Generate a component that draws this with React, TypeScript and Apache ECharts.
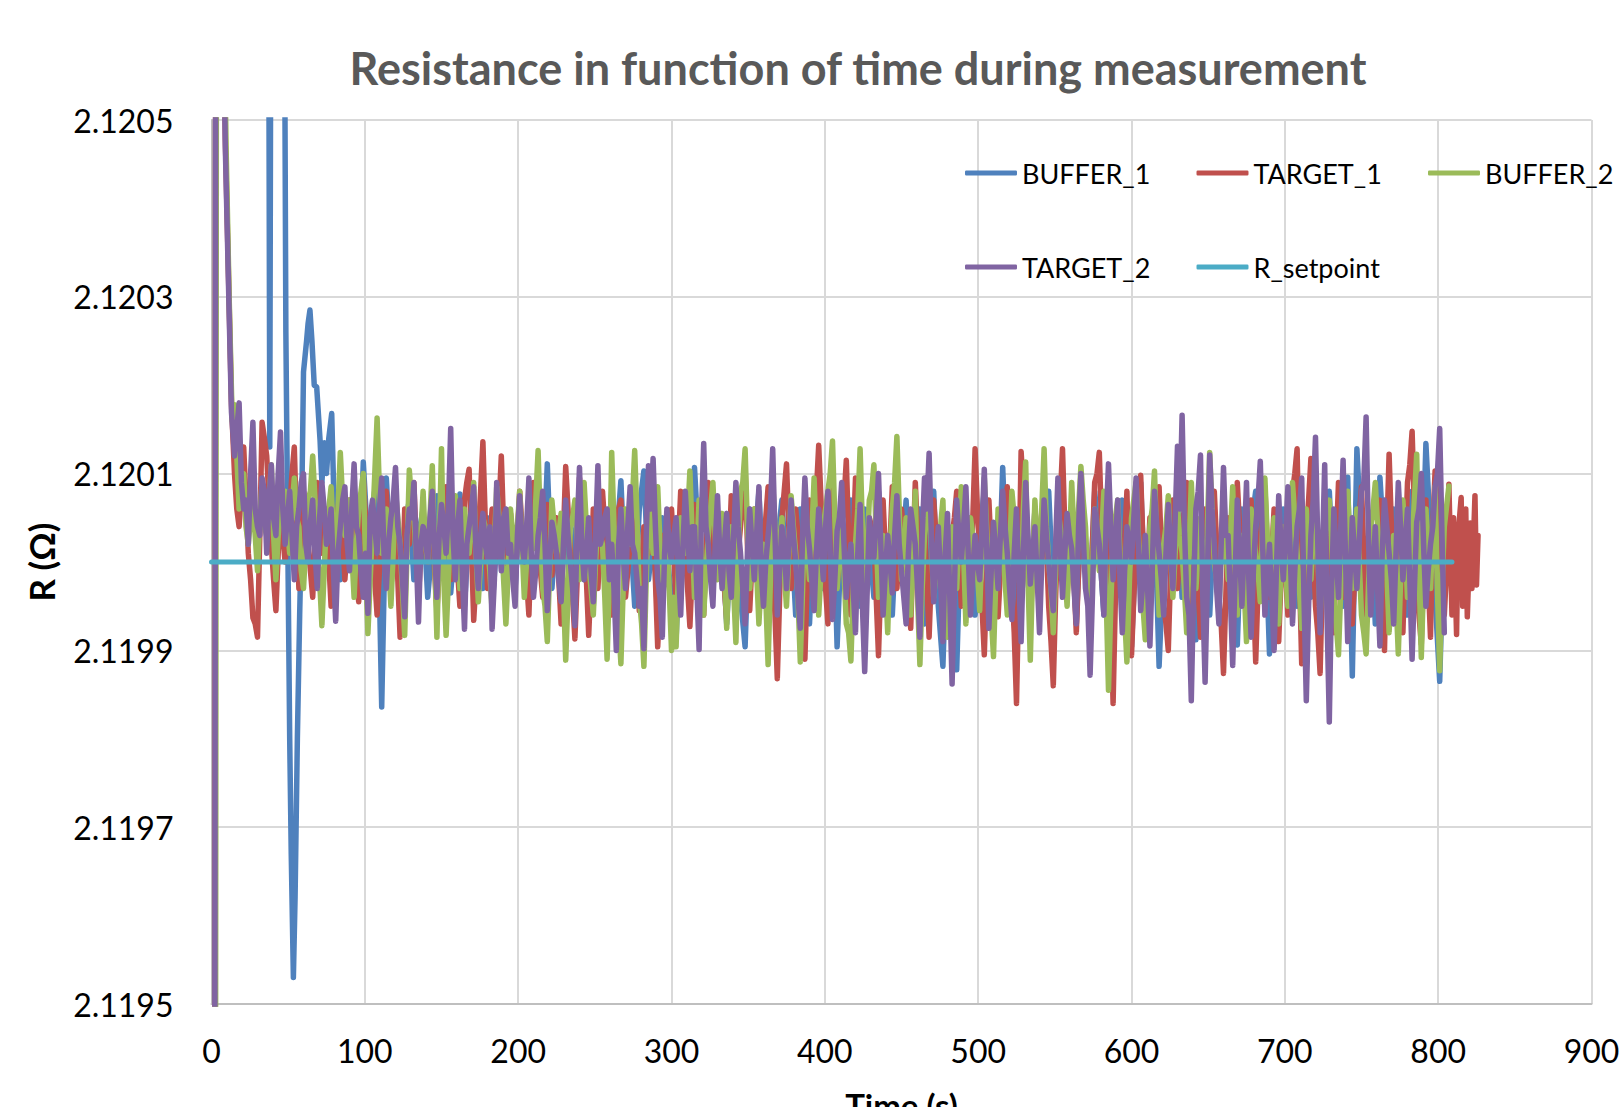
import React, { useEffect, useRef } from "react";
import * as echarts from "echarts";

// Resistance values are stored as deviations from the setpoint, in micro-ohm.
const R_SETPOINT_OHM = 2.12;
const MICRO_OHM = 1e-6;

const SERIES_NAMES = ["BUFFER_1", "TARGET_1", "BUFFER_2", "TARGET_2", "R_setpoint"];
const SERIES_COLORS = ["#4F81BD", "#C0504D", "#9BBB59", "#8064A2", "#4BACC6"];
const SERIES_WIDTHS = [5.5, 5.5, 5.5, 5.5, 5];

const X_TICKS = [0, 100, 200, 300, 400, 500, 600, 700, 800, 900];
const Y_TICKS = ["2.1195", "2.1197", "2.1199", "2.1201", "2.1203", "2.1205"];

// Sample times (s) shared by the measured series.
const TIME_S = [
  15, 18, 21, 24, 27, 30, 33, 36, 39, 42, 45, 48,
  51, 54, 57, 60, 63, 66, 69, 72, 75, 78, 81, 84,
  87, 90, 93, 96, 99, 102, 105, 108, 111, 114, 117, 120,
  123, 126, 129, 132, 135, 138, 141, 144, 147, 150, 153, 156,
  159, 162, 165, 168, 171, 174, 177, 180, 183, 186, 189, 192,
  195, 198, 201, 204, 207, 210, 213, 216, 219, 222, 225, 228,
  231, 234, 237, 240, 243, 246, 249, 252, 255, 258, 261, 264,
  267, 270, 273, 276, 279, 282, 285, 288, 291, 294, 297, 300,
  303, 306, 309, 312, 315, 318, 321, 324, 327, 330, 333, 336,
  339, 342, 345, 348, 351, 354, 357, 360, 363, 366, 369, 372,
  375, 378, 381, 384, 387, 390, 393, 396, 399, 402, 405, 408,
  411, 414, 417, 420, 423, 426, 429, 432, 435, 438, 441, 444,
  447, 450, 453, 456, 459, 462, 465, 468, 471, 474, 477, 480,
  483, 486, 489, 492, 495, 498, 501, 504, 507, 510, 513, 516,
  519, 522, 525, 528, 531, 534, 537, 540, 543, 546, 549, 552,
  555, 558, 561, 564, 567, 570, 573, 576, 579, 582, 585, 588,
  591, 594, 597, 600, 603, 606, 609, 612, 615, 618, 621, 624,
  627, 630, 633, 636, 639, 642, 645, 648, 651, 654, 657, 660,
  663, 666, 669, 672, 675, 678, 681, 684, 687, 690, 693, 696,
  699, 702, 705, 708, 711, 714, 717, 720, 723, 726, 729, 732,
  735, 738, 741, 744, 747, 750, 753, 756, 759, 762, 765, 768,
  771, 774, 777, 780, 783, 786, 789, 792, 795, 798, 801, 804,
];

// Intermediate sample times (s) of the target/buffer_2 series.
const TIME_MID_S = [
  16.5, 19.5, 22.5, 25.5, 28.5, 31.5, 34.5, 37.5, 40.5, 43.5, 46.5, 49.5,
  52.5, 55.5, 58.5, 61.5, 64.5, 67.5, 70.5, 73.5, 76.5, 79.5, 82.5, 85.5,
  88.5, 91.5, 94.5, 97.5, 100.5, 103.5, 106.5, 109.5, 112.5, 115.5, 118.5, 121.5,
  124.5, 127.5, 130.5, 133.5, 136.5, 139.5, 142.5, 145.5, 148.5, 151.5, 154.5, 157.5,
  160.5, 163.5, 166.5, 169.5, 172.5, 175.5, 178.5, 181.5, 184.5, 187.5, 190.5, 193.5,
  196.5, 199.5, 202.5, 205.5, 208.5, 211.5, 214.5, 217.5, 220.5, 223.5, 226.5, 229.5,
  232.5, 235.5, 238.5, 241.5, 244.5, 247.5, 250.5, 253.5, 256.5, 259.5, 262.5, 265.5,
  268.5, 271.5, 274.5, 277.5, 280.5, 283.5, 286.5, 289.5, 292.5, 295.5, 298.5, 301.5,
  304.5, 307.5, 310.5, 313.5, 316.5, 319.5, 322.5, 325.5, 328.5, 331.5, 334.5, 337.5,
  340.5, 343.5, 346.5, 349.5, 352.5, 355.5, 358.5, 361.5, 364.5, 367.5, 370.5, 373.5,
  376.5, 379.5, 382.5, 385.5, 388.5, 391.5, 394.5, 397.5, 400.5, 403.5, 406.5, 409.5,
  412.5, 415.5, 418.5, 421.5, 424.5, 427.5, 430.5, 433.5, 436.5, 439.5, 442.5, 445.5,
  448.5, 451.5, 454.5, 457.5, 460.5, 463.5, 466.5, 469.5, 472.5, 475.5, 478.5, 481.5,
  484.5, 487.5, 490.5, 493.5, 496.5, 499.5, 502.5, 505.5, 508.5, 511.5, 514.5, 517.5,
  520.5, 523.5, 526.5, 529.5, 532.5, 535.5, 538.5, 541.5, 544.5, 547.5, 550.5, 553.5,
  556.5, 559.5, 562.5, 565.5, 568.5, 571.5, 574.5, 577.5, 580.5, 583.5, 586.5, 589.5,
  592.5, 595.5, 598.5, 601.5, 604.5, 607.5, 610.5, 613.5, 616.5, 619.5, 622.5, 625.5,
  628.5, 631.5, 634.5, 637.5, 640.5, 643.5, 646.5, 649.5, 652.5, 655.5, 658.5, 661.5,
  664.5, 667.5, 670.5, 673.5, 676.5, 679.5, 682.5, 685.5, 688.5, 691.5, 694.5, 697.5,
  700.5, 703.5, 706.5, 709.5, 712.5, 715.5, 718.5, 721.5, 724.5, 727.5, 730.5, 733.5,
  736.5, 739.5, 742.5, 745.5, 748.5, 751.5, 754.5, 757.5, 760.5, 763.5, 766.5, 769.5,
  772.5, 775.5, 778.5, 781.5, 784.5, 787.5, 790.5, 793.5, 796.5, 799.5, 802.5,
];

// ---- BUFFER_1 (blue) ----
const BUFFER_1_HEAD: [number, number][] = [
  [1, 900], [37, 900], [38, 130], [39, 900], [47, 900], [48.5, 260], [50, -20],
  [51, -200], [52, -330], [53.4, -470], [54.5, -380], [56, -200], [57.5, -60],
  [58.5, 20], [60, 215], [62, 250], [63, 270], [64.2, 285], [65.5, 250], [67, 200],
  [68.6, 198], [70.8, 138], [72, 90], [73.6, 135], [75, 100], [76.5, 140], [78.4, 168], [80, 60],
];
const BUFFER_1_FIRST_SAMPLE = 22; // index in TIME_S (t = 81 s)
const BUFFER_1_DEV = [
  60, -20,
  50, 10, 80, -30, 113, 20, 60, 102, -164, 95, 0, 50,
  -30, 40, 70, -20, 30, 60, -40, 20, 75, -10, 40, -35,
  30, 77, -50, 40, 10, 60, -30, 50, -50, 20, 70, -20,
  40, -30, 60, 10, -40, 70, 20, -20, 111, -30, 40, 0,
  50, -40, 30, 70, -20, 40, -50, 60, 10, -30, 80, 20,
  92, -30, 40, -50, 60, 103, -20, 30, -60, 50, 10, -40,
  -87, 40, 70, -20, 107, 10, -50, 60, -30, 40, 20, -70,
  30, 80, -40, -96, 60, 10, 80, -30, 50, -50, 20, 70,
  -20, 40, -60, 60, 10, -70, 50, 97, -30, 20, 99, -96,
  40, -30, 70, 0, -50, 60, 20, -40, 80, -20, 30, -60,
  50, -10, 70, -40, 20, 60, -70, 30, 80, -50, -118, 40,
  10, -122, 60, -20, 50, -60, 30, 80, -40, 20, -50, 107,
  -30, 40, -60, 70, 10, -50, 60, -20, 40, 80, -40, 20,
  60, -30, 40, -70, 50, 10, -40, 80, 20, -60, 30, -50,
  40, 70, -40, -96, 20, 90, -50, 30, 60, -118, 10, 50,
  -20, 70, -40, 30, 75, -88, 40, 10, -60, 60, -30, 50,
  20, -50, -94, 60, -30, 40, 80, -20, 50, -104, 30, -66,
  60, -20, 40, -50, 70, 10, -40, 60, -60, 30, 80, -30,
  40, -50, 96, -129, 128, 20, -60, 50, -70, 96, 10, -40,
  60, -30, 40, -60, 80, 20, -50, 134, 30, -40, -135, 50,
];

// ---- TARGET_1 (red) ----
const TARGET_1_HEAD: [number, number][] = [[2, -900], [3, 1200], [9, 480], [11, 330], [13, 180]];
const TARGET_1_DEV = [
  100, 40, 130, 10, -63, -85, 158, 120, 20, -55, 70, 0,
  60, 130, -30, 80, 20, -40, 90, 10, 60, -50, 40, 85,
  -20, 70, 30, -45, 95, 10, 60, -60, 40, 80, -30, 50,
  -85, 60, 20, 90, -40, 50, 0, 75, -55, 35, 85, -20,
  40, -50, 70, 105, -66, 30, 136, -30, 60, 0, 120, -45,
  55, -20, 80, 10, -60, 90, 20, -40, 65, -15, 50, -70,
  108, 20, -87, 95, 30, -83, 60, -30, 80, 0, -60, 45,
  70, -40, 20, 85, -55, 40, 10, 90, -96, 30, -20, 60,
  -50, 80, 10, -73, 65, 20, -60, 90, -30, 50, 0, -65,
  75, -20, 40, 107, -55, 60, -40, 20, 85, -10, -132, 50,
  111, -30, 60, 10, -110, 70, -50, 132, 20, -70, 90, -25,
  40, 115, -60, 95, 0, -80, 50, 30, -106, 70, -40, 85,
  -30, 60, 10, -75, 90, -20, 40, -85, 70, 0, 55, -60,
  30, 80, -50, 60, -20, 128, 10, -105, 70, -40, -62, 50,
  85, -30, -160, 125, 40, -70, 60, 0, 95, -50, -140, 30,
  128, -40, 50, -80, 70, 10, -60, 90, 124, -30, 40, -160,
  60, -40, 80, -106, 20, 98, -70, 50, 10, 85, -50, -100,
  70, -30, 40, 90, -60, 20, -85, 60, 0, 80, -40, -126,
  50, -70, 90, 10, -50, 70, -113, 30, 85, -40, 60, -90,
  40, -60, 80, 128, -115, 30, 117, -50, -126, 60, 10, -80,
  90, -40, 50, -70, 20, 85, -60, 40, 0, 70, -100, 122,
  -50, 60, -80, 90, 148, -30, -93, 70, -85, 103, 20, -60,
];
const TARGET_1_MID = [
  60, 80, 70, -20, -70, 30, 140, 70, -20, 10, 30, 30,
  100, 40, 20, 50, -10, 20, 50, 40, 0, -10, 60, 30,
  20, 50, -10, 30, 50, 30, -20, -10, 60, 20, 10, -20,
  -30, 40, 50, 20, 10, 20, 40, -10, -10, 60, 30, 10,
  -10, 10, 90, 20, -20, 80, 50, 20, 30, 60, 40, 10,
  20, 30, 40, -20, 20, 50, -10, 10, 20, 20, -20, 30,
  60, -40, -20, 60, -20, -20, 10, 20, 40, -30, -10, 60,
  10, -10, 50, 20, -10, 20, 40, -20, -40, 0, 20, 10,
  20, 30, -30, -10, 40, -20, 10, 30, 10, 20, -30, 10,
  30, 10, 70, 20, 0, 10, -10, 50, 30, -60, -40, 80,
  40, 10, 30, -50, -20, 10, 80, 70, -30, 10, 30, 0,
  70, 30, 20, 40, -40, -20, 40, -40, -20, 10, 20, 20,
  10, 30, -30, 10, 30, 10, -20, -10, 30, 20, 0, -20,
  50, 10, 0, 20, 50, 60, -50, -20, 10, -50, -10, 60,
  20, -80, -30, 80, -10, -10, 30, 50, 20, -90, -40, 70,
  40, 10, -20, -10, 40, -20, 20, 100, 40, 0, -60, -40,
  10, 20, -30, -40, 50, 20, -10, 30, 40, 10, -70, -10,
  20, 10, 60, 10, -20, -30, -10, 30, 40, 20, -70, -40,
  -10, 10, 40, -20, 20, -30, -30, 50, 20, 10, -20, -20,
  -10, 20, 100, -10, -40, 70, 20, -80, -20, 30, -20, 20,
  20, 10, -20, -20, 50, 10, -10, 20, 30, -30, 30, 40,
  0, -10, 10, 110, 60, -60, -10, -20, 40, 60, -20,
];
const TARGET_1_TAIL: [number, number][] = [
  [806, 10], [807, 88], [809, -60], [810, 50], [812, -82], [813, 30], [815, 73], [816, -50],
  [818, 60], [819, -62], [821, 44], [822, -30], [824, 75], [825, -26], [826, 30],
];

// ---- BUFFER_2 (green) ----
const BUFFER_2_HEAD: [number, number][] = [[2.5, -900], [3.5, 1200], [9.5, 470], [11.5, 300], [13.5, 160]];
const BUFFER_2_DEV = [
  178, 60, 100, 20, 70, -10, 90, 30, 110, -20, 60, 80,
  10, 95, 40, -30, 70, 120, 20, -72, 50, 85, 0, 124,
  30, 70, -40, 60, 100, -81, 40, 163, 10, 60, -50, 80,
  20, -83, 104, 50, -20, 80, 0, 109, -85, 128, -83, 40,
  75, -30, 60, 10, 90, -45, 50, 20, -55, 85, 30, -70,
  60, 0, 80, -40, 50, 15, 126, -30, -90, 70, 10, 55,
  -111, 40, 70, -20, 90, 0, -60, 50, 20, -110, 124, -30,
  -115, 60, 20, 126, -40, -118, 70, 10, 85, -50, 30, -100,
  -96, 50, 10, 103, -40, 70, -60, 30, 90, -20, 55, -75,
  40, -91, 80, 128, -30, 60, -70, 20, -116, 90, 0, 50,
  -50, 75, 10, -113, 60, -20, 95, -60, 40, 80, 137, -30,
  50, -70, -112, 20, 128, -50, 70, 110, -40, 30, -80, 60,
  142, -20, 50, -60, 80, -116, 30, 90, -40, 10, 70, -85,
  40, -30, 85, -70, 50, 20, -55, 95, -20, -107, 60, 10,
  -60, 80, 30, -45, 113, -111, 70, -20, 128, 0, -80, 60,
  20, -50, 90, -30, 108, 40, -75, 60, -10, 80, -145, 30,
  70, -40, -113, 50, 90, -20, -88, 40, 103, -60, 20, 75,
  -40, 60, 10, -80, 90, -30, 50, -70, 124, 0, -55, 70,
  -20, 85, -60, 30, -90, 60, 10, -45, 95, -30, 50, -70,
  40, -50, 90, 10, -75, 60, -20, 85, -60, 30, 70, -40,
  -105, 50, 80, -30, 60, -60, -104, 40, 90, -20, 55, -80,
  30, -104, 70, -40, 20, 122, -108, 60, -30, 85, -123, 40,
];
const BUFFER_2_MID = [
  120, 90, 40, 50, 30, 50, 40, 70, 30, 30, 80, 40,
  60, 50, -10, 20, 80, 70, -20, -10, 60, 30, 60, 70,
  50, 10, 20, 80, 0, -20, 100, 80, 40, 0, 10, 50,
  -30, 10, 70, 10, 30, 20, 50, 10, 20, -20, -20, 60,
  20, 10, 30, 40, 10, 0, 40, -10, 20, 50, -20, -10,
  30, 40, 20, 0, 30, 70, 40, -50, -10, 40, 30, -30,
  -40, 50, 20, 30, 40, -30, 0, 30, -40, -20, 40, -70,
  -30, 40, 70, 50, -70, -20, 40, 40, 20, -10, -30, -40,
  -10, 30, 50, 30, 10, 0, -10, 60, 30, 20, -10, -10,
  -30, 10, 90, 40, 10, -10, -20, -40, -20, 40, 20, -10,
  10, 40, -40, -30, 20, 30, 20, -10, 60, 100, 50, 10,
  -10, -80, -30, 60, 40, 10, 80, 30, -10, -20, 10, 90,
  60, 10, -10, 10, -40, -30, 50, 20, -10, 40, -20, -10,
  0, 30, 10, -10, 30, -10, 20, 40, -60, -20, 30, -20,
  10, 50, -10, 60, -20, -10, 20, 60, 40, -30, -10, 40,
  -10, 20, 30, 60, 70, -20, -10, 20, 30, -40, -50, 50,
  10, -60, -30, 70, 30, -50, -20, 60, 20, -10, 40, 10,
  10, 30, -30, 10, 30, 10, -10, 40, 60, -20, 10, 20,
  30, -10, -10, -30, -10, 30, -10, 40, 30, 10, -10, -10,
  -10, 20, 50, -30, -10, 20, 30, 10, -10, 50, 20, -70,
  -30, 60, 20, 10, 0, -80, -30, 60, 40, 10, -10, -20,
  -40, -20, 20, -10, 70, -10, -20, 10, 30, -30, -30,
];
const BUFFER_2_TAIL: [number, number][] = [[807, 86]];

// ---- TARGET_2 (purple) ----
const TARGET_2_HEAD: [number, number][] = [[2, -900], [3, 1200], [9, 470], [11, 320], [13, 170]];
const TARGET_2_DEV = [
  120, 180, 60, 20, 158, 40, 95, 10, 110, 30, 147, 20,
  80, -20, 60, 100, 0, 70, -30, 90, 20, 60, -67, 40,
  85, -10, 111, 30, -40, -58, 70, 10, 95, -30, 50, 107,
  20, -62, 60, 90, -68, 40, 0, 80, -40, 65, 10, 151,
  -20, 70, -76, 40, 85, -30, 55, 5, -76, 90, -10, 60,
  20, -50, 75, 0, 95, -40, 30, 80, -55, 45, 10, -45,
  70, 0, -72, 107, -20, 50, -45, 109, 30, 60, 20, -100,
  60, -30, 85, 10, -50, -98, 109, 117, -20, -85, 60, 0,
  50, -60, 80, -10, 40, -99, 134, 20, -50, 75, -30, 55,
  -40, 90, 10, -70, 60, -20, 85, -50, 30, 128, -60, 40,
  -30, 70, 0, -75, 95, 15, -55, 60, -20, 80, -65, 35,
  90, -40, 20, -80, 65, -124, 50, 5, 100, -60, 30, -35,
  75, -10, -70, 60, 20, -85, 95, 123, -45, 40, -90, 55,
  -138, 70, 0, 85, -60, 30, -20, 105, -75, 45, -30, 80,
  10, -65, 60, -90, 90, -25, 40, -80, 70, 0, -55, 95,
  -40, 55, 15, -70, 100, -30, -128, 60, 20, -60, 111, -20,
  70, -80, 40, 0, 95, -55, 30, -95, 80, 10, -60, 65,
  -30, 131, 166, -40, -157, 60, 121, -136, 121, 20, -70, 107,
  30, -117, 70, -50, 90, -85, 40, 114, -60, 20, -100, 75,
  -20, 85, -70, 40, 95, -157, 30, 141, -80, 110, -181, 60,
  -40, 115, -90, 50, -30, 80, 164, -60, 40, -95, 70, 10,
  -70, 90, -20, 60, -110, 45, 100, -50, 20, 85, 151, -80,
];
const TARGET_2_MID = [
  150, 90, 70, 100, 60, 30, 80, 70, 50, 100, 60, 50,
  30, 40, 90, 20, 45, 10, 50, 60, 30, -10, 10, 70,
  20, 60, 40, -10, 10, 50, 40, 60, 10, 20, 70, 40,
  -20, 30, 50, 10, 20, 30, 50, 10, 30, 40, 60, 30,
  40, -10, 20, 60, 10, 30, 20, 40, -20, 30, 50, 10,
  -20, 30, 20, 40, 10, -10, 50, 20, 0, 30, -20, 20,
  30, -30, 40, 20, 10, -10, 30, 20, 50, -20, -30, 20,
  10, 40, 20, -20, -30, 30, 60, 40, -40, 10, 20, 30,
  -10, 20, 30, 40, -30, 50, 40, -20, 20, 10, 20, -10,
  30, 40, -30, 10, 20, 30, -10, 0, 60, 30, -10, 20,
  20, 30, -40, 30, 40, -20, 10, 20, 40, 10, -20, 50,
  20, 0, -30, 10, -50, -40, 20, 50, 20, -10, 0, 30,
  20, -40, 10, 40, -30, 30, 60, 30, 0, -20, 10, -40,
  -30, 30, 40, 10, -10, 0, 40, 20, -10, 10, 30, 40,
  -30, 10, -20, 10, 30, 10, -20, 0, 30, -30, 20, 20,
  10, 30, -30, 40, 30, -50, -40, 40, -20, 50, 40, 20,
  -20, -10, 20, 50, 20, -20, -30, -10, 40, -20, 10, 10,
  50, 60, 40, -60, -30, 80, -40, -20, 60, -30, 20, 30,
  -40, -20, 10, 20, -20, -10, 70, 20, -20, -40, -10, 20,
  30, 10, -10, 60, -40, -50, 70, 20, 10, -60, -30, 10,
  40, 10, -20, 10, 20, 90, 30, -10, -30, 10, 40, -20,
  10, 40, 20, -20, -30, 60, 20, -10, 40, 100, 30,
];

// ---- R_setpoint ----
const R_SETPOINT_TIME_S = [0, 809];
const R_SETPOINT_DEV = [0, 0];

const FONT = "Lato, 'Open Sans', 'Liberation Sans', sans-serif";

function toOhm(dev: number): number {
  return R_SETPOINT_OHM + dev * MICRO_OHM;
}

function pairs(times: number[], devs: number[]): [number, number][] {
  const n = Math.min(times.length, devs.length);
  const out: [number, number][] = [];
  for (let i = 0; i < n; i++) out.push([times[i], devs[i]]);
  return out;
}

function buildSeries(parts: [number, number][][]): [number, number][] {
  const all: [number, number][] = [];
  parts.forEach((p) => p.forEach((pt) => all.push(pt)));
  all.sort((a, b) => a[0] - b[0]);
  return all.map(([t, d]) => [t, toOhm(d)]);
}

export default function App() {
  const ref = useRef<HTMLDivElement>(null);

  useEffect(() => {
    if (!ref.current) return;
    const chart = echarts.init(ref.current, undefined, { renderer: "svg" });

    const seriesData: [number, number][][] = [
      buildSeries([BUFFER_1_HEAD, pairs(TIME_S.slice(BUFFER_1_FIRST_SAMPLE), BUFFER_1_DEV)]),
      buildSeries([TARGET_1_HEAD, pairs(TIME_S, TARGET_1_DEV), pairs(TIME_MID_S, TARGET_1_MID), TARGET_1_TAIL]),
      buildSeries([BUFFER_2_HEAD, pairs(TIME_S, BUFFER_2_DEV), pairs(TIME_MID_S, BUFFER_2_MID), BUFFER_2_TAIL]),
      buildSeries([TARGET_2_HEAD, pairs(TIME_S, TARGET_2_DEV), pairs(TIME_MID_S, TARGET_2_MID)]),
      buildSeries([pairs(R_SETPOINT_TIME_S, R_SETPOINT_DEV)]),
    ];

    const legendCommon = {
      left: 965,
      padding: 0,
      orient: "horizontal" as const,
      icon: "roundRect",
      itemWidth: 52,
      itemHeight: 5,
      itemGap: 44.5,
      selectedMode: false,
      textStyle: { fontFamily: FONT, fontSize: 27, color: "#000", width: 130, lineHeight: 30 },
    };

    chart.setOption({
      animation: false,
      backgroundColor: "#fff",
      color: SERIES_COLORS,
      graphic: [
        {
          type: "text",
          x: 858,
          y: 68,
          style: {
            text: "Resistance in function of time during measurement",
            fontFamily: FONT,
            fontWeight: "bold",
            fontSize: 45,
            fill: "#595959",
            textAlign: "center",
            textVerticalAlign: "middle",
          },
        },
      ],
      legend: [
        { ...legendCommon, top: 158, data: SERIES_NAMES.slice(0, 3) },
        { ...legendCommon, top: 252, data: SERIES_NAMES.slice(3) },
      ],
      grid: {
        left: 211.5,
        right: 32.5,
        top: 120,
        bottom: 103,
        containLabel: false,
        outerBoundsMode: "none",
      },
      xAxis: {
        type: "value",
        min: X_TICKS[0],
        max: X_TICKS[X_TICKS.length - 1],
        interval: 100,
        name: "Time (s)",
        nameLocation: "middle",
        nameGap: 84,
        nameTextStyle: { fontFamily: FONT, fontWeight: "bold", fontSize: 33, color: "#000" },
        axisLine: { show: true, lineStyle: { color: "#BFBFBF", width: 2 } },
        axisTick: { show: false },
        axisLabel: { margin: 30, fontFamily: FONT, fontSize: 32, color: "#000" },
        splitLine: { show: true, lineStyle: { color: "#D9D9D9", width: 2 } },
      },
      yAxis: {
        type: "value",
        min: Number(Y_TICKS[0]),
        max: Number(Y_TICKS[Y_TICKS.length - 1]),
        interval: 0.0002,
        name: "R (Ω)",
        nameLocation: "middle",
        nameGap: 153,
        nameRotate: 90,
        nameTextStyle: { fontFamily: FONT, fontWeight: "bold", fontSize: 35, color: "#000" },
        axisLine: { show: true, lineStyle: { color: "#BFBFBF", width: 2 } },
        axisTick: { show: false },
        axisLabel: {
          margin: 38,
          fontFamily: FONT,
          fontSize: 32,
          color: "#000",
          formatter: (v: number) => v.toFixed(4),
        },
        splitLine: { show: true, lineStyle: { color: "#D9D9D9", width: 2 } },
      },
      series: SERIES_NAMES.map((name, k) => ({
        name,
        type: "line",
        data: seriesData[k],
        symbol: "none",
        showSymbol: false,
        clip: true,
        z: 2 + k,
        lineStyle: { width: SERIES_WIDTHS[k], color: SERIES_COLORS[k], join: "round", cap: "round" },
        itemStyle: { color: SERIES_COLORS[k] },
      })),
    });

    return () => chart.dispose();
  }, []);

  return (
    <div
      ref={ref}
      style={{ position: "fixed", left: 0, top: 0, width: 1624, height: 1107 }}
    />
  );
}
